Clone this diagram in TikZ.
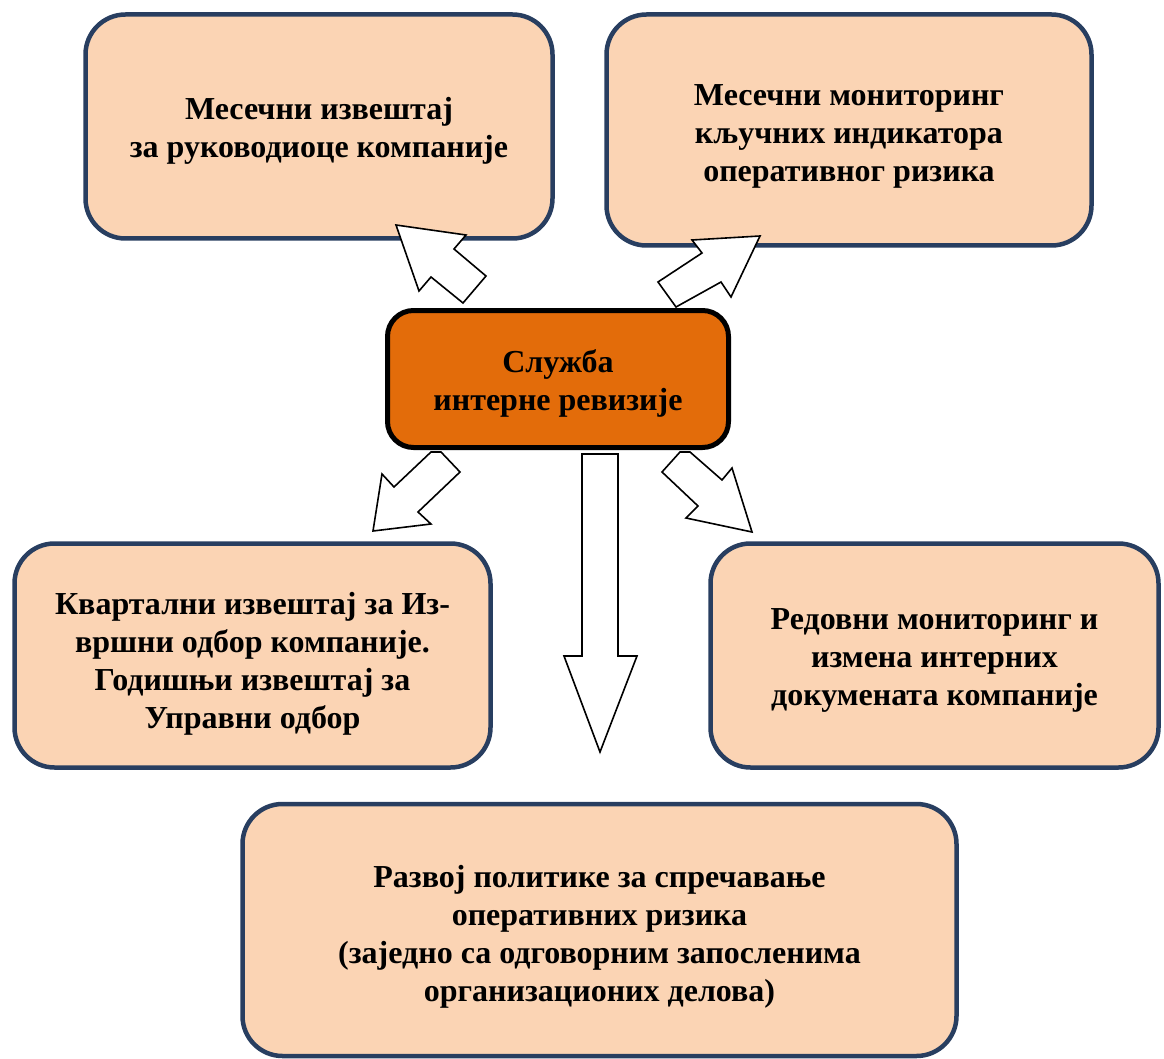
\documentclass[tikz,border=0pt]{standalone}
\usepackage{fontspec}
\setmainfont{Liberation Serif}
\definecolor{peach}{RGB}{251,212,180}
\definecolor{boxblue}{RGB}{40,62,96}
\definecolor{orng}{RGB}{227,108,10}
\begin{document}
\begin{tikzpicture}[x=1pt,y=-1pt,
  box/.style={draw=boxblue,line width=4.5pt,fill=peach,rounded corners=40pt,inner sep=0pt},
  cbox/.style={draw=black,line width=5pt,fill=orng,rounded corners=26pt,inner sep=0pt},
  txt/.style={align=center,font=\fontsize{32}{38}\selectfont\bfseries,inner sep=0pt},
  blockarrow/.style={draw=black,line width=1.6pt,fill=white,line join=miter}]
\useasboundingbox (0,0) rectangle (1164,1059);
% boxes
\node[box,minimum width=467pt,minimum height=224pt] (b1) at (319,126.5) {};
\node[txt] (t1) at ([yshift=-4pt]b1.center) {Месечни извештај\\за руководиоце компаније};
\node[box,minimum width=485pt,minimum height=231pt] (b2) at (849,130) {};
\node[txt] (t2) at ([yshift=-6pt]b2.center) {Месечни мониторинг\\кључних индикатора\\оперативног ризика};
\node[box,minimum width=476pt,minimum height=224pt] (b4) at (252.5,655.5) {};
\node[txt] (t4) at ([yshift=-8pt]b4.center) {Квартални извештај за Из-\\вршни одбор компаније.\\Годишњи извештај за\\Управни одбор};
\node[box,minimum width=448pt,minimum height=224pt] (b5) at (934.5,655.5) {};
\node[txt] (t5) at ([yshift=-5pt]b5.center) {Редовни мониторинг и\\измена интерних\\докумената компаније};
\node[box,minimum width=714pt,minimum height=252pt] (b6) at (599.5,930) {};
\node[txt] (t6) at ([yshift=-7pt]b6.center) {Развој политике за спречавање\\оперативних ризика\\(заједно са одговорним запосленима\\организационих делова)};
% block arrows
\draw[blockarrow] (396,225) -- (466,235) -- (454,249) -- (486,276) -- (463,303) -- (431,277) -- (419,291) -- cycle;
\draw[blockarrow] (760,236) -- (692,240) -- (702,253) -- (658,282) -- (676,307) -- (721,282) -- (731,297) -- cycle;
\draw[blockarrow] (431,452) -- (441,452) -- (460,472) -- (418,512) -- (431,524) -- (373,531) -- (382,474) -- (394,487) -- cycle;
\draw[blockarrow] (582,454) -- (618,454) -- (618,656) -- (637,656) -- (600,752) -- (564,656) -- (582,656) -- cycle;
\draw[blockarrow] (680,452) -- (690,452) -- (722,480) -- (732,468) -- (752,532) -- (686,518) -- (698,506) -- (662,472) -- cycle;
% center box
\node[cbox,minimum width=341pt,minimum height=137pt] (c) at (558,379) {};
\node[txt] (tc) at ([yshift=-4pt]c.center) {Служба\\интерне ревизије};
\end{tikzpicture}
\end{document}
